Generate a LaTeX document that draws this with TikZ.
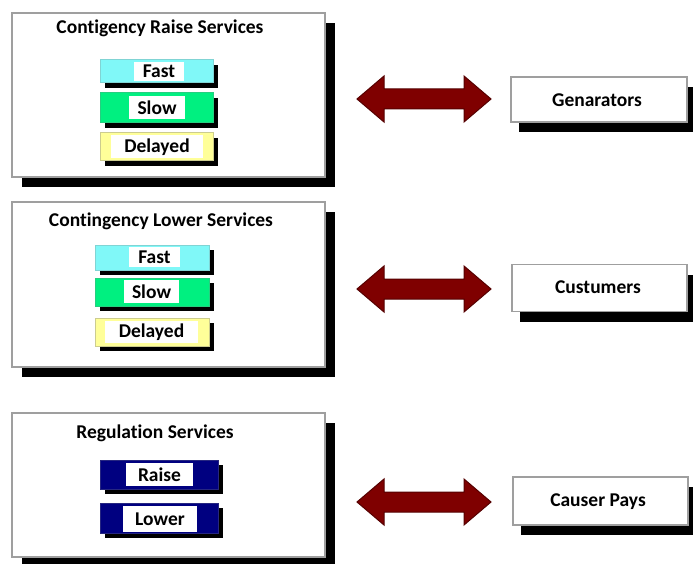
\documentclass[tikz,border=0pt]{standalone}
\usepackage{fontspec}
\setmainfont{Carlito}[Ligatures=NoCommon]
\usetikzlibrary{shadows}
\definecolor{arrowred}{HTML}{7F0000}
\definecolor{arrowedge}{HTML}{550000}
\definecolor{fastcol}{HTML}{80F8F8}
\definecolor{slowcol}{HTML}{00F080}
\definecolor{delcol}{HTML}{FFFF99}
\definecolor{navycol}{HTML}{000080}
\tikzset{
  bigbox/.style={draw=gray!75, line width=1.5pt, fill=white, inner sep=0pt,
    drop shadow={shadow xshift=10pt, shadow yshift=-10pt, fill=black, opacity=1}},
  sidebox/.style={draw=gray!75, line width=1.5pt, fill=white, inner sep=0pt,
    drop shadow={shadow xshift=8pt, shadow yshift=-10pt, fill=black, opacity=1}},
  svcbox/.style={line width=1pt, inner sep=0pt,
    drop shadow={shadow xshift=5pt, shadow yshift=-5pt, fill=black, opacity=1}},
  lbl/.style={fill=white, inner sep=0pt, font=\bfseries\fontsize{19.5}{21}\selectfont},
  ttl/.style={font=\bfseries\fontsize{19.5}{21}\selectfont},
  dblarrow/.style={fill=arrowred, draw=arrowedge, line width=1pt, line join=miter}
}
\begin{document}
\begin{tikzpicture}[x=1pt, y=-1pt]
\useasboundingbox (0,0) rectangle (693,564);
% ---- group 1
\node[bigbox, minimum width=313pt, minimum height=164pt] (g1) at (168.5,95) {};
\node[ttl] (t1) at (160,28) {Contigency Raise Services};
\node[svcbox, fill=fastcol, draw=fastcol!70!gray, minimum width=113pt, minimum height=23pt] (f1) at (156.5,71.5) {};
\node[lbl, minimum width=50pt, minimum height=19pt] (f1l) at (159,71.5) {Fast};
\node[svcbox, fill=slowcol, draw=slowcol!70!gray, minimum width=113pt, minimum height=30pt] (s1) at (156.5,108) {};
\node[lbl, minimum width=56pt, minimum height=23pt] (s1l) at (157,107.5) {Slow};
\node[svcbox, fill=delcol, draw=delcol!60!gray, minimum width=113pt, minimum height=28pt] (d1) at (156.5,147) {};
\node[lbl, minimum width=92pt, minimum height=23pt] (d1l) at (157,147) {Delayed};
% ---- group 2
\node[bigbox, minimum width=313pt, minimum height=165pt] (g2) at (168.5,284.5) {};
\node[ttl] (t2) at (161,221) {Contingency Lower Services};
\node[svcbox, fill=fastcol, draw=fastcol!70!gray, minimum width=114pt, minimum height=25pt] (f2) at (152,257.5) {};
\node[lbl, minimum width=51pt, minimum height=20pt] (f2l) at (154.5,257) {Fast};
\node[svcbox, fill=slowcol, draw=slowcol!70!gray, minimum width=114pt, minimum height=28pt] (s2) at (152,292) {};
\node[lbl, minimum width=55pt, minimum height=23pt] (s2l) at (151.5,291.5) {Slow};
\node[svcbox, fill=delcol, draw=delcol!60!gray, minimum width=114pt, minimum height=28pt] (d2) at (152,332) {};
\node[lbl, minimum width=93pt, minimum height=22pt] (d2l) at (151.5,332) {Delayed};
% ---- group 3
\node[bigbox, minimum width=313pt, minimum height=144pt] (g3) at (168.5,485) {};
\node[ttl] (t3) at (155,433) {Regulation Services};
\node[svcbox, fill=navycol, draw=navycol!70!gray, minimum width=118pt, minimum height=29pt] (r3) at (159,474.5) {};
\node[lbl, minimum width=67pt, minimum height=23pt] (r3l) at (159.5,474.5) {Raise};
\node[svcbox, fill=navycol, draw=navycol!70!gray, minimum width=118pt, minimum height=30pt] (l3) at (159,518) {};
\node[lbl, minimum width=74pt, minimum height=26pt] (l3l) at (160,519) {Lower};
% ---- right boxes
\node[sidebox, minimum width=176pt, minimum height=45pt] (gen) at (599,99.5) {};
\node[ttl] (genl) at (597,100) {Genarators};
\node[sidebox, minimum width=175pt, minimum height=47pt] (cus) at (599.5,288) {};
\node[ttl] (cusl) at (598,287) {Custumers};
\node[sidebox, minimum width=175pt, minimum height=48pt] (cau) at (600.5,501) {};
\node[ttl] (caul) at (598,502) {Causer Pays};
% ---- double arrows
\foreach \cy/\nm in {99/a1, 289/a2, 502/a3}{
  \draw[dblarrow] (357,\cy) -- (384,\cy-23) -- (384,\cy-10) -- (464,\cy-10) -- (464,\cy-23)
    -- (491,\cy) -- (464,\cy+23) -- (464,\cy+10) -- (384,\cy+10) -- (384,\cy+23) -- cycle;
}
\end{tikzpicture}
\end{document}
